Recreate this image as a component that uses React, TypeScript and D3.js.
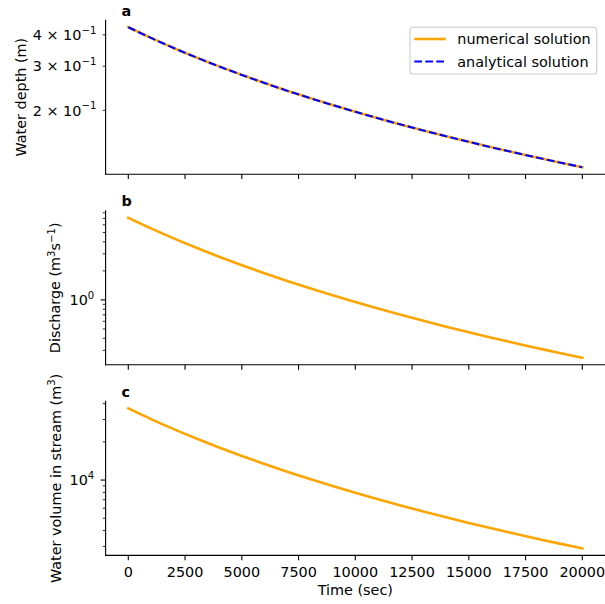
import React from "react";
import * as d3 from "d3";

const TIME = [0, 1000, 2000, 3000, 4000, 5000, 6000, 7000, 8000, 9000, 10000, 11000, 12000, 13000, 14000, 15000, 16000, 17000, 18000, 19000, 20000];
const DEPTH_NUMERICAL = [0.4290, 0.3888, 0.3545, 0.3250, 0.2994, 0.2769, 0.2571, 0.2396, 0.2240, 0.2100, 0.1974, 0.1860, 0.1757, 0.1663, 0.1577, 0.1498, 0.1425, 0.1359, 0.1297, 0.1240, 0.1187];
const DEPTH_ANALYTICAL = [0.4290, 0.3888, 0.3545, 0.3250, 0.2994, 0.2769, 0.2571, 0.2396, 0.2240, 0.2100, 0.1974, 0.1860, 0.1757, 0.1663, 0.1577, 0.1498, 0.1425, 0.1359, 0.1297, 0.1240, 0.1187];
const DISCHARGE = [7.100, 5.512, 4.344, 3.469, 2.804, 2.291, 1.890, 1.574, 1.320, 1.116, 0.950, 0.813, 0.701, 0.607, 0.528, 0.462, 0.405, 0.358, 0.317, 0.281, 0.251];
const VOLUME = [36700, 30245, 25220, 21250, 18070, 15494, 13386, 11644, 10191, 8970, 7937, 7056, 6301, 5650, 5086, 4594, 4164, 3786, 3452, 3157, 2894];
const X_TICKS = [0, 2500, 5000, 7500, 10000, 12500, 15000, 17500, 20000];
const LEGEND_LABELS = ["numerical solution", "analytical solution"];

const W = 605;
const H = 604;
const LEFT = 105.6;
const RIGHT = 605;
const TOP0 = 20.2;
const STEP = 190.6;
const PH = 154;
const FS = 14.4;
const FONT = "DejaVu Sans, sans-serif";
const MAJ = 4.86;
const MIN = 2.78;
const ORANGE = "#FFA500";
const BLUE = "#0000FF";

const x = d3.scaleLinear().domain([-1000, 21000]).range([LEFT, RIGHT]);

function logDomain(vals: number[]): [number, number] {
  const [lo, hi] = d3.extent(vals) as [number, number];
  const a = Math.log10(lo);
  const b = Math.log10(hi);
  const pad = (b - a) * 0.05;
  return [Math.pow(10, a - pad), Math.pow(10, b + pad)];
}

function logTicks(dom: [number, number]) {
  const out: { v: number; major: boolean; k: number; e: number }[] = [];
  const e0 = Math.floor(Math.log10(dom[0]));
  const e1 = Math.ceil(Math.log10(dom[1]));
  for (let e = e0; e <= e1; e++) {
    for (let k = 1; k <= 9; k++) {
      const v = k * Math.pow(10, e);
      if (v >= dom[0] * 0.9999 && v <= dom[1] * 1.0001) out.push({ v, major: k === 1, k, e });
    }
  }
  return out;
}

type Series = { values: number[]; color: string; dash?: string; width: number };

type PanelDef = {
  letter: string;
  series: Series[];
  labelMinor: boolean;
  ylabel: React.ReactNode;
  ylabelX: number;
};

const SUP = 10.1;

const panels: PanelDef[] = [
  {
    letter: "a",
    series: [
      { values: DEPTH_NUMERICAL, color: ORANGE, width: 2.6 },
      { values: DEPTH_ANALYTICAL, color: BLUE, dash: "7.7,3.3", width: 2.1 },
    ],
    labelMinor: true,
    ylabel: "Water depth (m)",
    ylabelX: 25.8,
  },
  {
    letter: "b",
    series: [{ values: DISCHARGE, color: ORANGE, width: 2.6 }],
    labelMinor: false,
    ylabel: (
      <>
        Discharge (m
        <tspan dy={-5.8} fontSize={SUP}>3</tspan>
        <tspan dy={5.8}>s</tspan>
        <tspan dy={-5.8} fontSize={SUP}>−1</tspan>
        <tspan dy={5.8}>)</tspan>
      </>
    ),
    ylabelX: 60.3,
  },
  {
    letter: "c",
    series: [{ values: VOLUME, color: ORANGE, width: 2.6 }],
    labelMinor: false,
    ylabel: (
      <>
        Water volume in stream (m
        <tspan dy={-5.8} fontSize={SUP}>3</tspan>
        <tspan dy={5.8}>)</tspan>
      </>
    ),
    ylabelX: 60.6,
  },
];

function Panel({ def, index }: { def: PanelDef; index: number }) {
  const top = TOP0 + STEP * index;
  const bottom = top + PH;
  const all = def.series.flatMap((s) => s.values);
  const dom = logDomain(all);
  const y = d3.scaleLog().domain(dom).range([bottom, top]);
  const ticks = logTicks(dom);
  const isLast = index === panels.length - 1;
  const line = (vals: number[]) =>
    d3
      .line<number>()
      .x((_, i) => x(TIME[i]))
      .y((v) => y(v))
      .curve(d3.curveMonotoneX)(vals) as string;

  return (
    <g>
      {def.series.map((s, i) => (
        <path
          key={i}
          d={line(s.values)}
          fill="none"
          stroke={s.color}
          strokeWidth={s.width}
          strokeDasharray={s.dash}
          strokeLinecap={s.dash ? "butt" : "square"}
        />
      ))}
      <line x1={LEFT} x2={LEFT} y1={top} y2={bottom} stroke="#000" strokeWidth={1.1} strokeLinecap="square" />
      <line x1={LEFT} x2={RIGHT} y1={bottom} y2={bottom} stroke="#000" strokeWidth={1.1} strokeLinecap="square" />
      {ticks.map((t, i) => {
        const yy = y(t.v);
        const len = t.major ? MAJ : MIN;
        const showLabel = t.major || def.labelMinor;
        return (
          <g key={i}>
            <line x1={LEFT - len} x2={LEFT} y1={yy} y2={yy} stroke="#000" strokeWidth={t.major ? 1.1 : 0.85} />
            {showLabel && (
              <text x={LEFT - len - 6.5} y={yy + 5.2} textAnchor="end" fontSize={FS} fontFamily={FONT} fill="#000">
                {t.major ? "10" : `${t.k} × 10`}
                <tspan dy={-6.2} fontSize={SUP}>{t.e < 0 ? `−${-t.e}` : `${t.e}`}</tspan>
              </text>
            )}
          </g>
        );
      })}
      {X_TICKS.map((v) => (
        <g key={v}>
          <line x1={x(v)} x2={x(v)} y1={bottom} y2={bottom + MAJ} stroke="#000" strokeWidth={1.1} />
          {isLast && (
            <text x={x(v)} y={bottom + 21.7} textAnchor="middle" fontSize={FS} fontFamily={FONT} fill="#000">
              {String(v)}
            </text>
          )}
        </g>
      ))}
      <text x={121.5} y={top - 4.6} fontSize={FS} fontWeight="bold" fontFamily={FONT} fill="#000">
        {def.letter}
      </text>
      <text
        transform={`translate(${def.ylabelX},${(top + bottom) / 2}) rotate(-90)`}
        textAnchor="middle"
        fontSize={FS}
        fontFamily={FONT}
        fill="#000"
      >
        {def.ylabel}
      </text>
    </g>
  );
}

export default function App() {
  return (
    <svg
      width={W}
      height={H}
      viewBox={`0 0 ${W} ${H}`}
      style={{ position: "absolute", left: 0, top: 0, background: "#fff" }}
    >
      <rect x={0} y={0} width={W} height={H} fill="#fff" />
      {panels.map((p, i) => (
        <Panel key={p.letter} def={p} index={i} />
      ))}
      <g>
        <rect x={410} y={27.3} width={186.7} height={46.7} rx={2.8} fill="#fff" fillOpacity={0.8} stroke="#cccccc" strokeWidth={1.1} />
        <line x1={414.3} x2={445.7} y1={39} y2={39} stroke={ORANGE} strokeWidth={2.6} />
        <text x={457.3} y={44.2} fontSize={FS} fontFamily={FONT} fill="#000">{LEGEND_LABELS[0]}</text>
        <line x1={414.3} x2={445.7} y1={61.5} y2={61.5} stroke={BLUE} strokeWidth={2.1} strokeDasharray="7.7,3.3" />
        <text x={457.3} y={66.7} fontSize={FS} fontFamily={FONT} fill="#000">{LEGEND_LABELS[1]}</text>
      </g>
      <text x={(LEFT + RIGHT) / 2} y={594.5} textAnchor="middle" fontSize={FS} fontFamily={FONT} fill="#000">
        Time (sec)
      </text>
    </svg>
  );
}
